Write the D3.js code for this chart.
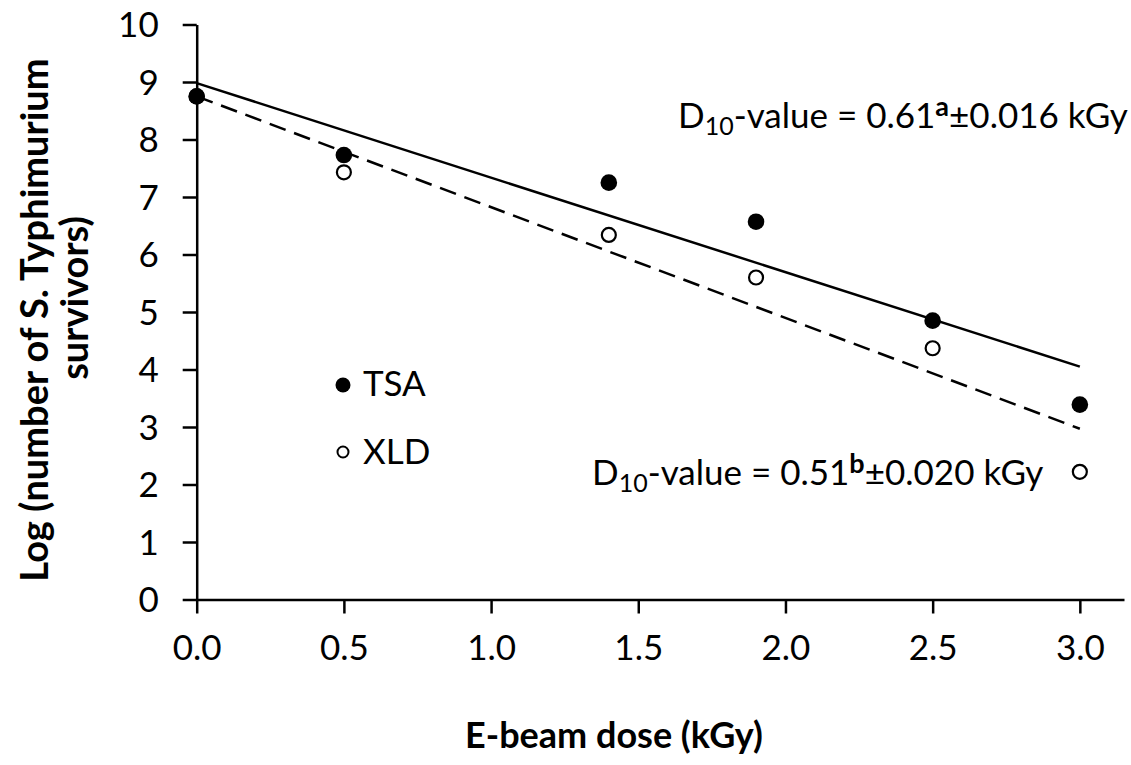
<!DOCTYPE html>
<html><head><meta charset="utf-8">
<script src="https://cdn.jsdelivr.net/npm/d3@7"></script>
<style>
body{margin:0;background:#fff;}
svg{font-family:Lato, "Open Sans", sans-serif;}
</style></head>
<body><svg id="c" width="1131" height="765"></svg>
<script>
const doses = [0, 0.5, 1.4, 1.9, 2.5, 3.0];
const tsa = [8.75, 7.73, 7.25, 6.57, 4.85, 3.39];
const xld = [8.75, 7.43, 6.34, 5.60, 4.37, 2.22];
const fitX = [0, 3.0];
const tsaFit = [8.98, 4.05];
const xldFit = [8.75, 2.97];
const xTicks = [0, 0.5, 1.0, 1.5, 2.0, 2.5, 3.0];
const yTicks = [0,1,2,3,4,5,6,7,8,9,10];

const svg = d3.select("#c");
const x = d3.scaleLinear().domain([0, 3.15]).range([196.7, 1124]);
const y = d3.scaleLinear().domain([0, 10]).range([599.5, 24.5]);

const xAxis = svg.append("g").attr("transform", `translate(0,${y(0)})`)
  .call(d3.axisBottom(x).tickValues(xTicks).tickFormat(d3.format(".1f")).tickSize(14).tickSizeOuter(0).tickPadding(22));
const yAxis = svg.append("g").attr("transform", `translate(${x(0)},0)`)
  .call(d3.axisLeft(y).tickValues(yTicks).tickFormat(d3.format("d")).tickSize(14).tickSizeOuter(0).tickPadding(24));
[xAxis, yAxis].forEach(g => {
  g.selectAll("path,line").attr("stroke", "#000").attr("stroke-width", 2.5);
  g.selectAll("text").attr("font-size", 35).attr("fill", "#000").attr("font-family", "Lato");
});
yAxis.selectAll("text").attr("dy", "0.35em");

const line = d3.line().x(d => x(d[0])).y(d => y(d[1]));
svg.append("path").attr("d", line(fitX.map((v,i)=>[v, tsaFit[i]])))
  .attr("stroke", "#000").attr("stroke-width", 2.5).attr("fill", "none");
svg.append("path").attr("d", line(fitX.map((v,i)=>[v, xldFit[i]])))
  .attr("stroke", "#000").attr("stroke-width", 2.5).attr("fill", "none").attr("stroke-dasharray", "17,9");

svg.append("g").selectAll("circle").data(doses).join("circle")
  .attr("cx", d => x(d)).attr("cy", (d,i) => y(xld[i])).attr("r", 7)
  .attr("fill", "#fff").attr("stroke", "#000").attr("stroke-width", 2.2);
svg.append("g").selectAll("circle").data(doses).join("circle")
  .attr("cx", d => x(d)).attr("cy", (d,i) => y(tsa[i])).attr("r", 8.3)
  .attr("fill", "#000");

// legend
svg.append("circle").attr("cx", 343).attr("cy", 385).attr("r", 7.5).attr("fill", "#000");
svg.append("circle").attr("cx", 343).attr("cy", 452).attr("r", 5.5).attr("fill", "#fff").attr("stroke", "#000").attr("stroke-width", 2);
svg.append("text").attr("x", 363).attr("y", 396).attr("font-size", 35).text("TSA");
svg.append("text").attr("x", 363).attr("y", 464).attr("font-size", 35).text("XLD");

function dLabel(xp, yp, val, sup, err) {
  const t = svg.append("text").attr("x", xp).attr("y", yp).attr("font-size", 35);
  t.append("tspan").text("D");
  t.append("tspan").attr("font-size", 25).attr("dy", 7).text("10");
  t.append("tspan").attr("dy", -7).text("-value = " + val);
  t.append("tspan").attr("font-size", 27).attr("font-weight", "bold").attr("dy", -12).text(sup);
  t.append("tspan").attr("dy", 12).text("±" + err + " kGy");
}
dLabel(678, 128, "0.61", "a", "0.016");
dLabel(592, 485, "0.51", "b", "0.020");

svg.append("text").attr("x", 614).attr("y", 748).attr("text-anchor", "middle")
  .attr("font-size", 36).attr("font-weight", "bold").text("E-beam dose (kGy)");
svg.append("text").attr("transform", "translate(35,320) rotate(-90)")
  .attr("text-anchor", "middle").attr("font-size", 38).attr("font-weight", "bold")
  .append("tspan").attr("y", 13).text("Log (number of S. Typhimurium");
svg.append("text").attr("transform", "translate(75,298) rotate(-90)")
  .attr("text-anchor", "middle").attr("font-size", 38).attr("font-weight", "bold")
  .append("tspan").attr("y", 13).text("survivors)");
</script></body></html>
